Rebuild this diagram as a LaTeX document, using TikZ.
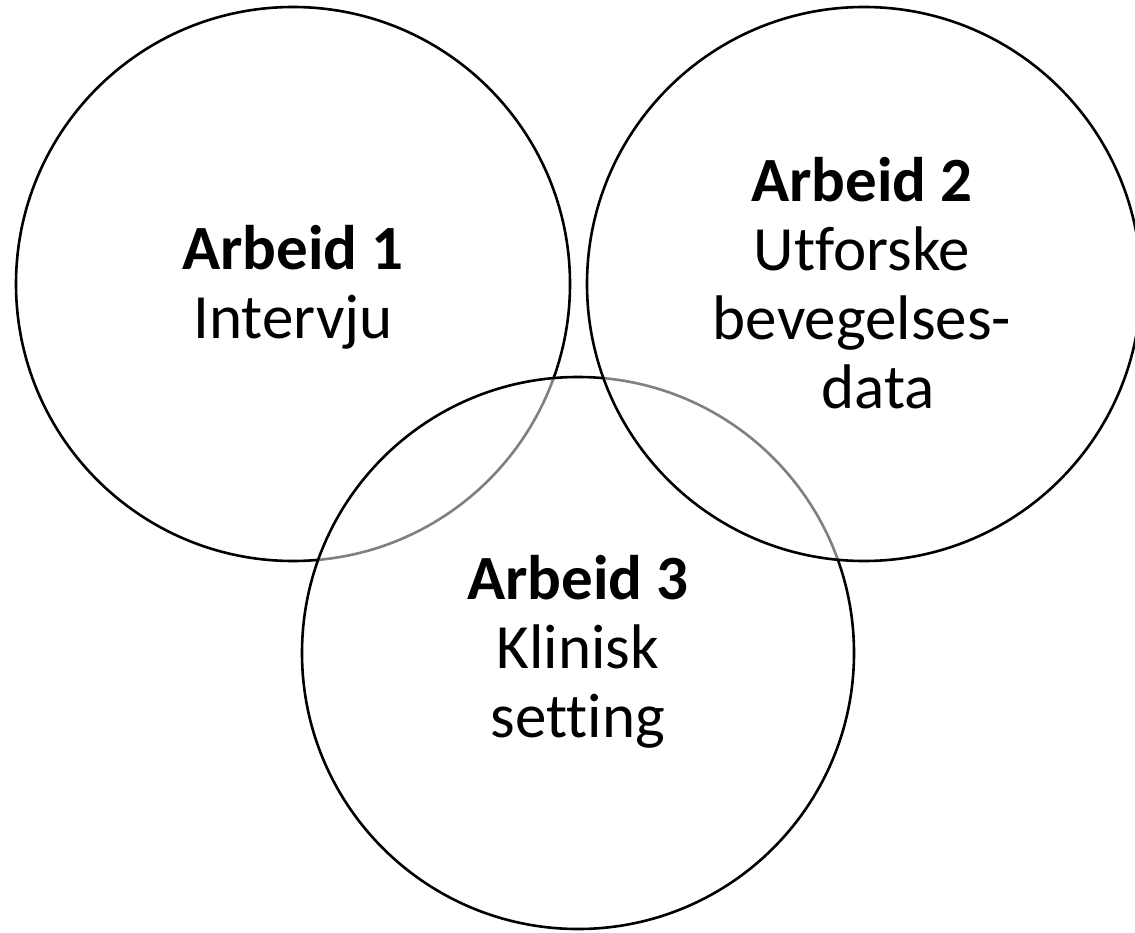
\documentclass[tikz,border=0pt]{standalone}
\usepackage{fontspec}
\setmainfont{Carlito}[Ligatures={NoCommon}]
\begin{document}
\begin{tikzpicture}[x=1pt,y=-1pt,
  ring/.style={draw=black,line width=2.6pt,fill=white,fill opacity=0.5},
  lbl/.style={align=center,font=\fontsize{63}{69}\selectfont,inner sep=0pt,text opacity=1}]
\useasboundingbox (0,0) rectangle (1135,933);
\draw[ring] (293,284) circle[radius=277];
\draw[ring] (578,653) circle[radius=276];
\draw[ring] (864,284) circle[radius=277];
\node[lbl] (t1) at (293,287) {\textbf{Arbeid 1}\\Intervju};
\node[lbl] (t2) at (862,283) {\textbf{Arbeid 2}\\Utforske\\bevegelses-\\\kern32pt data};
\node[lbl] (t3) at (578,652) {\textbf{Arbeid 3}\\Klinisk\\setting};
\end{tikzpicture}
\end{document}
